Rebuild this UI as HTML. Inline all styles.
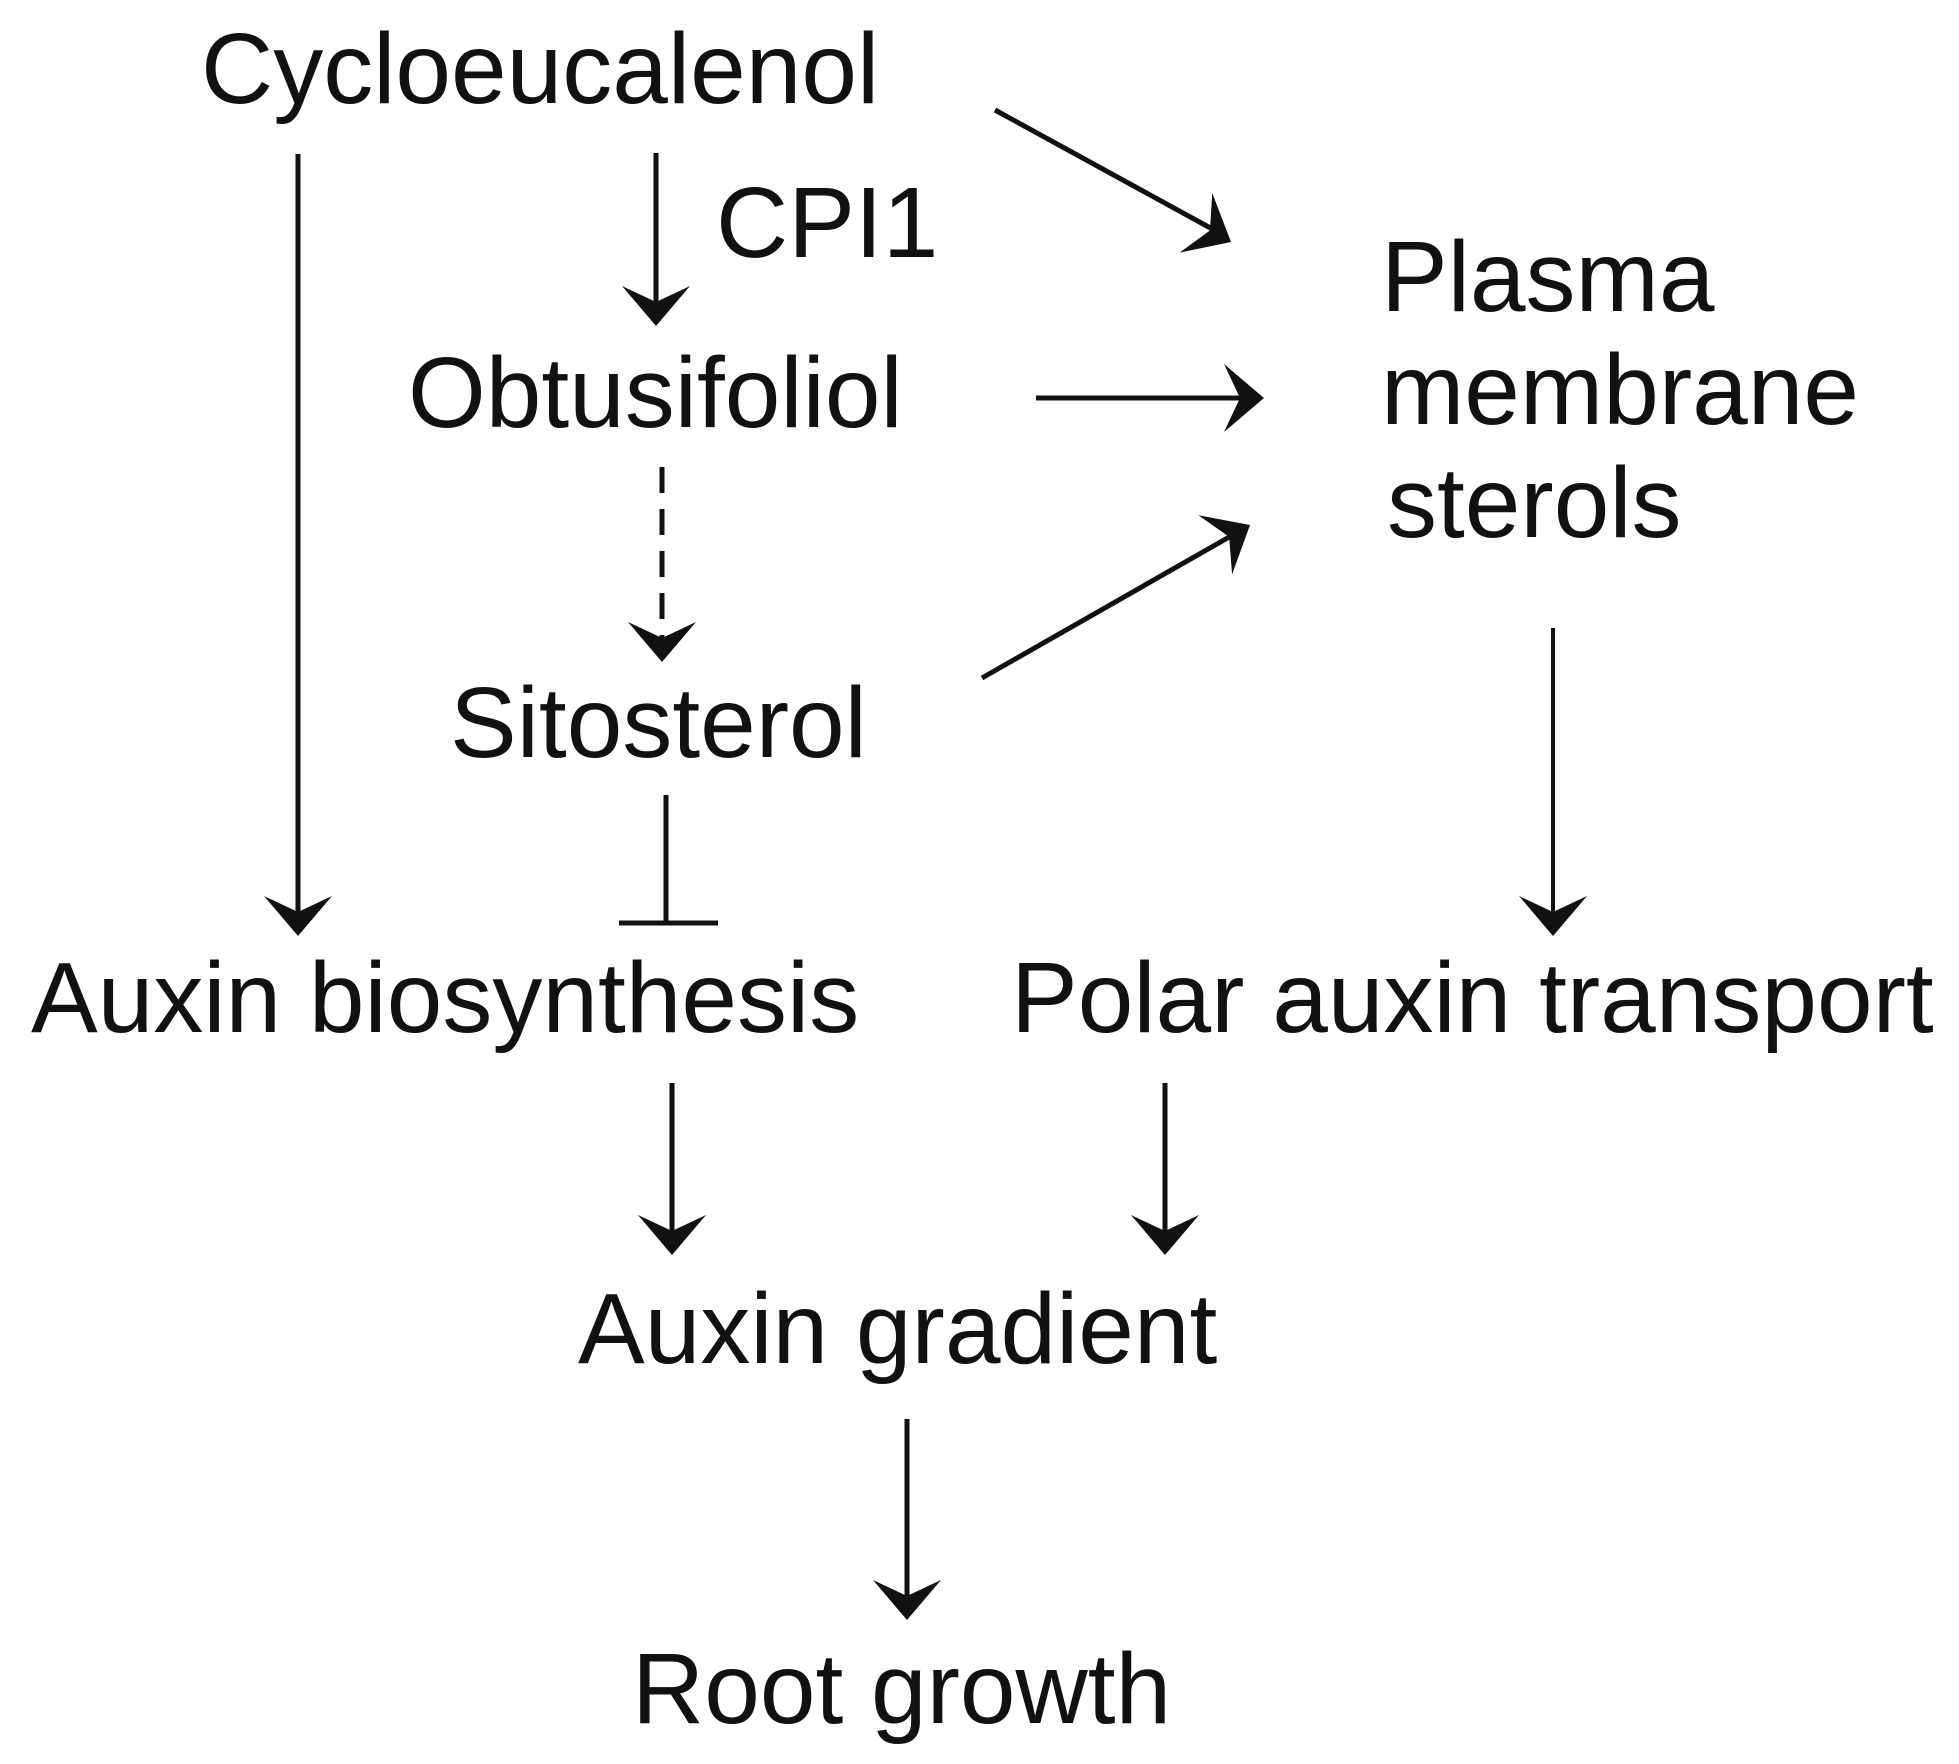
<!DOCTYPE html>
<html><head><style>
html,body{margin:0;padding:0;background:#fff;}
svg{display:block;}
text{font-family:"Liberation Sans",Arial,sans-serif;font-size:100px;fill:#111;}
</style></head><body>
<svg width="1959" height="1764" viewBox="0 0 1959 1764" xmlns="http://www.w3.org/2000/svg">
<defs>
<marker id="a" viewBox="0 0 20 20" refX="18" refY="10" markerWidth="14" markerHeight="14" markerUnits="userSpaceOnUse" orient="auto" style="overflow:visible">
<path d="M-10,-10 L20,10 L-10,30 L0,10 Z" fill="#111" transform="scale(1)"/>
</marker>
</defs>
<g stroke="#111" stroke-width="5" fill="none">
<line x1="298" y1="154" x2="298" y2="930"/>
<line x1="656" y1="153" x2="656" y2="318"/>
<line x1="1036" y1="398" x2="1256" y2="398"/>
<line x1="995" y1="110" x2="1225" y2="236"/>
<line x1="662" y1="467" x2="662" y2="653" stroke-dasharray="26,16"/>
<line x1="982" y1="678" x2="1245" y2="528"/>
<line x1="666" y1="795" x2="666" y2="923"/>
<line x1="619" y1="923" x2="718" y2="923"/>
<line x1="1553" y1="628" x2="1553" y2="930" stroke-width="4"/>
<line x1="672" y1="1083" x2="672" y2="1247"/>
<line x1="1165" y1="1083" x2="1165" y2="1247"/>
<line x1="907" y1="1419" x2="907" y2="1612"/>
</g>
<g fill="#111">
<path d="M298,936 L264,896 L298,912 L332,896 Z"/>
<path d="M656,326 L622,286 L656,302 L690,286 Z"/>
<path d="M662,662 L628,622 L662,638 L696,622 Z"/>
<path d="M1553,936 L1519,896 L1553,912 L1587,896 Z"/>
<path d="M672,1255 L638,1215 L672,1231 L706,1215 Z"/>
<path d="M1165,1255 L1131,1215 L1165,1231 L1199,1215 Z"/>
<path d="M907,1620 L873,1580 L907,1596 L941,1580 Z"/>
<path d="M1264,398 L1224,364 L1240,398 L1224,432 Z"/>
<g transform="translate(1231,242) rotate(28.7)"><path d="M0,0 L-40,-34 L-24,0 L-40,34 Z"/></g>
<g transform="translate(1250,525) rotate(-29.7)"><path d="M0,0 L-40,-34 L-24,0 L-40,34 Z"/></g>
</g>
<text x="201" y="103">Cycloeucalenol</text>
<text x="716" y="257">CPI1</text>
<text x="408" y="427">Obtusifoliol</text>
<text x="1381" y="311">Plasma</text>
<text x="1381" y="424">membrane</text>
<text x="1387" y="537">sterols</text>
<text x="450" y="757">Sitosterol</text>
<text x="31" y="1032">Auxin biosynthesis</text>
<text x="1011" y="1032">Polar auxin transport</text>
<text x="578" y="1363">Auxin gradient</text>
<text x="632" y="1723">Root growth</text>
</svg>
</body></html>
